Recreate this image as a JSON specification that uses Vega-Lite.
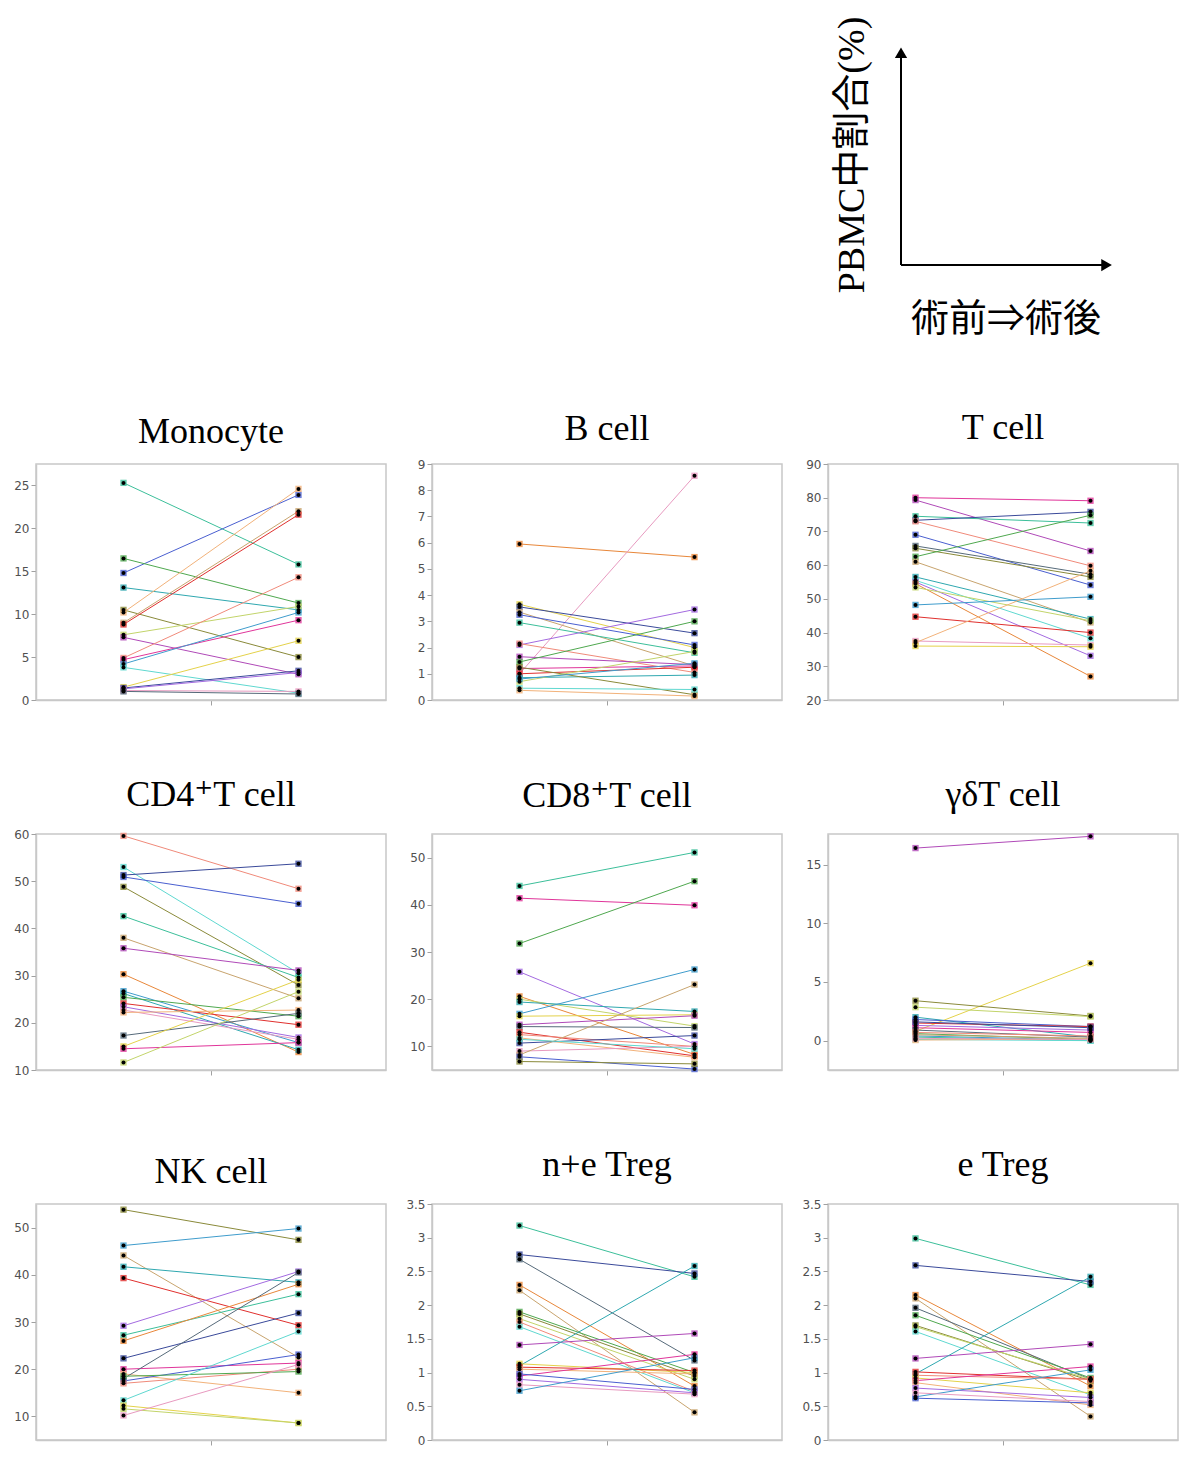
{
"$schema":"https://vega.github.io/schema/vega-lite/v6.json",
"background":"white",
"padding":{"left":12,"top":0,"right":0,"bottom":0},
"spacing":69,
"resolve":{"scale":{"x":"independent","y":"independent"}},
"config":{
"view":{"stroke":"#c8c8c8","strokeWidth":1.5},
"axis":{"domainColor":"#c8c8c8","domainWidth":1.5,"tickColor":"#a0a0a0","tickSize":5,"labelColor":"#505050","labelFont":"DejaVu Sans","labelFontSize":12,"grid":false,"labelPadding":2,"labelExpr":"'' + datum.value"},
"title":{"font":"Liberation Serif, DejaVu Serif","fontSize":36,"fontWeight":"normal","color":"#000","offset":10,"anchor":"middle"},
"range":{"category":["#3cbf9a","#4a5fd0","#4fa84f","#2fa8b0","#8a8a3a","#f2b27a","#c8a46e","#e0302e","#c2d46a","#b04ab8","#f08a7a","#e0359a","#3f9ccc","#e4d24a","#3a4a9a","#a36ae0","#e89ac0","#566a7a","#5fd8d0","#e8873a"]}
},
"datasets":{
"cells":[
{"p":"Mo","s":1,"pre":25.3,"post":15.8},{"p":"Mo","s":2,"pre":14.8,"post":23.9},{"p":"Mo","s":3,"pre":16.5,"post":11.3},{"p":"Mo","s":4,"pre":13.1,"post":10.5},{"p":"Mo","s":5,"pre":10.5,"post":5.0},{"p":"Mo","s":6,"pre":10.2,"post":24.6},{"p":"Mo","s":7,"pre":9.0,"post":22.0},{"p":"Mo","s":8,"pre":8.8,"post":21.6},{"p":"Mo","s":9,"pre":7.6,"post":10.9},{"p":"Mo","s":10,"pre":7.3,"post":3.0},{"p":"Mo","s":11,"pre":4.9,"post":14.3},{"p":"Mo","s":12,"pre":4.7,"post":9.3},{"p":"Mo","s":13,"pre":4.2,"post":10.2},{"p":"Mo","s":19,"pre":3.8,"post":0.8},{"p":"Mo","s":14,"pre":1.5,"post":6.9},{"p":"Mo","s":15,"pre":1.4,"post":3.4},{"p":"Mo","s":16,"pre":1.3,"post":3.2},{"p":"Mo","s":17,"pre":1.1,"post":1.0},{"p":"Mo","s":18,"pre":1.0,"post":0.7},
{"p":"B","s":20,"pre":5.95,"post":5.45},{"p":"B","s":17,"pre":1.0,"post":8.55},{"p":"B","s":14,"pre":3.65,"post":2.0},{"p":"B","s":15,"pre":3.55,"post":2.55},{"p":"B","s":7,"pre":3.35,"post":1.3},{"p":"B","s":2,"pre":3.25,"post":2.1},{"p":"B","s":1,"pre":2.95,"post":1.8},{"p":"B","s":16,"pre":2.1,"post":3.45},{"p":"B","s":11,"pre":2.15,"post":1.05},{"p":"B","s":10,"pre":1.65,"post":1.35},{"p":"B","s":3,"pre":1.45,"post":3.0},{"p":"B","s":12,"pre":1.2,"post":1.3},{"p":"B","s":8,"pre":1.0,"post":1.25},{"p":"B","s":4,"pre":0.85,"post":0.95},{"p":"B","s":9,"pre":0.7,"post":1.85},{"p":"B","s":5,"pre":1.25,"post":0.2},{"p":"B","s":19,"pre":0.45,"post":0.4},{"p":"B","s":6,"pre":0.37,"post":0.15},{"p":"B","s":13,"pre":0.8,"post":1.4},
{"p":"T","s":12,"pre":80.0,"post":79.1},{"p":"T","s":10,"pre":79.3,"post":64.2},{"p":"T","s":1,"pre":74.5,"post":72.5},{"p":"T","s":15,"pre":73.3,"post":75.8},{"p":"T","s":11,"pre":73.0,"post":59.8},{"p":"T","s":2,"pre":69.0,"post":54.1},{"p":"T","s":18,"pre":65.7,"post":57.3},{"p":"T","s":5,"pre":65.0,"post":56.5},{"p":"T","s":3,"pre":62.5,"post":74.8},{"p":"T","s":7,"pre":61.0,"post":43.0},{"p":"T","s":4,"pre":56.5,"post":44.0},{"p":"T","s":19,"pre":55.5,"post":38.3},{"p":"T","s":16,"pre":55.0,"post":33.1},{"p":"T","s":20,"pre":54.5,"post":27.0},{"p":"T","s":9,"pre":53.4,"post":43.5},{"p":"T","s":13,"pre":48.2,"post":50.6},{"p":"T","s":8,"pre":44.7,"post":40.0},{"p":"T","s":17,"pre":37.5,"post":36.3},{"p":"T","s":6,"pre":37.0,"post":58.3},{"p":"T","s":14,"pre":36.0,"post":35.8},
{"p":"CD4","s":11,"pre":59.6,"post":48.4},{"p":"CD4","s":19,"pre":53.0,"post":30.5},{"p":"CD4","s":15,"pre":51.3,"post":53.7},{"p":"CD4","s":2,"pre":50.9,"post":45.2},{"p":"CD4","s":5,"pre":48.8,"post":28.0},{"p":"CD4","s":1,"pre":42.6,"post":29.6},{"p":"CD4","s":7,"pre":38.0,"post":25.2},{"p":"CD4","s":10,"pre":35.8,"post":31.1},{"p":"CD4","s":20,"pre":30.3,"post":13.8},{"p":"CD4","s":13,"pre":26.7,"post":15.8},{"p":"CD4","s":4,"pre":26.2,"post":14.3},{"p":"CD4","s":3,"pre":25.4,"post":21.4},{"p":"CD4","s":8,"pre":24.1,"post":19.6},{"p":"CD4","s":16,"pre":23.4,"post":16.9},{"p":"CD4","s":17,"pre":22.7,"post":16.5},{"p":"CD4","s":6,"pre":22.2,"post":22.7},{"p":"CD4","s":18,"pre":17.3,"post":22.0},{"p":"CD4","s":14,"pre":15.0,"post":29.1},{"p":"CD4","s":12,"pre":14.5,"post":15.8},{"p":"CD4","s":9,"pre":11.6,"post":26.6},
{"p":"CD8","s":1,"pre":44.0,"post":51.1},{"p":"CD8","s":12,"pre":41.4,"post":39.9},{"p":"CD8","s":3,"pre":31.8,"post":45.0},{"p":"CD8","s":16,"pre":25.8,"post":10.5},{"p":"CD8","s":20,"pre":20.6,"post":8.3},{"p":"CD8","s":9,"pre":20.0,"post":14.3},{"p":"CD8","s":4,"pre":19.4,"post":17.4},{"p":"CD8","s":13,"pre":16.9,"post":26.3},{"p":"CD8","s":14,"pre":16.4,"post":16.7},{"p":"CD8","s":10,"pre":14.6,"post":16.5},{"p":"CD8","s":18,"pre":14.2,"post":14.0},{"p":"CD8","s":8,"pre":13.0,"post":8.0},{"p":"CD8","s":11,"pre":12.5,"post":10.0},{"p":"CD8","s":6,"pre":11.8,"post":7.7},{"p":"CD8","s":15,"pre":10.7,"post":12.3},{"p":"CD8","s":17,"pre":9.0,"post":10.0},{"p":"CD8","s":7,"pre":8.2,"post":23.1},{"p":"CD8","s":2,"pre":7.8,"post":5.2},{"p":"CD8","s":5,"pre":6.8,"post":6.3},{"p":"CD8","s":19,"pre":11.5,"post":9.5},
{"p":"gd","s":10,"pre":16.4,"post":17.4},{"p":"gd","s":14,"pre":0.8,"post":6.6},{"p":"gd","s":5,"pre":3.4,"post":2.1},{"p":"gd","s":9,"pre":2.85,"post":2.05},{"p":"gd","s":4,"pre":2.0,"post":0.3},{"p":"gd","s":2,"pre":1.8,"post":1.2},{"p":"gd","s":8,"pre":1.5,"post":1.2},{"p":"gd","s":16,"pre":1.3,"post":0.9},{"p":"gd","s":12,"pre":1.1,"post":0.7},{"p":"gd","s":18,"pre":0.9,"post":0.3},{"p":"gd","s":3,"pre":0.6,"post":0.1},{"p":"gd","s":13,"pre":0.4,"post":0.05},{"p":"gd","s":1,"pre":0.3,"post":0.0},{"p":"gd","s":19,"pre":0.1,"post":0.0},{"p":"gd","s":6,"pre":0.05,"post":0.15},{"p":"gd","s":15,"pre":1.6,"post":1.1},{"p":"gd","s":7,"pre":0.5,"post":0.2},{"p":"gd","s":11,"pre":0.7,"post":0.4},{"p":"gd","s":17,"pre":0.2,"post":0.1},
{"p":"NK","s":5,"pre":53.8,"post":47.4},{"p":"NK","s":13,"pre":46.2,"post":49.8},{"p":"NK","s":7,"pre":44.1,"post":22.5},{"p":"NK","s":4,"pre":41.7,"post":38.4},{"p":"NK","s":8,"pre":39.3,"post":29.3},{"p":"NK","s":16,"pre":29.2,"post":40.7},{"p":"NK","s":1,"pre":27.2,"post":35.9},{"p":"NK","s":20,"pre":26.0,"post":38.0},{"p":"NK","s":15,"pre":22.3,"post":31.9},{"p":"NK","s":12,"pre":20.0,"post":21.3},{"p":"NK","s":6,"pre":19.0,"post":15.0},{"p":"NK","s":18,"pre":18.0,"post":40.5},{"p":"NK","s":2,"pre":17.5,"post":23.1},{"p":"NK","s":11,"pre":17.0,"post":20.0},{"p":"NK","s":3,"pre":18.5,"post":19.5},{"p":"NK","s":19,"pre":13.4,"post":28.0},{"p":"NK","s":14,"pre":12.3,"post":8.6},{"p":"NK","s":9,"pre":11.6,"post":8.6},{"p":"NK","s":17,"pre":10.2,"post":21.0},
{"p":"neT","s":1,"pre":3.18,"post":2.42},{"p":"neT","s":15,"pre":2.75,"post":2.47},{"p":"neT","s":18,"pre":2.68,"post":1.18},{"p":"neT","s":20,"pre":2.3,"post":0.8},{"p":"neT","s":7,"pre":2.22,"post":0.41},{"p":"neT","s":3,"pre":1.9,"post":1.0},{"p":"neT","s":5,"pre":1.87,"post":0.95},{"p":"neT","s":9,"pre":1.8,"post":0.9},{"p":"neT","s":11,"pre":1.75,"post":0.72},{"p":"neT","s":19,"pre":1.68,"post":0.7},{"p":"neT","s":10,"pre":1.41,"post":1.58},{"p":"neT","s":4,"pre":1.1,"post":2.58},{"p":"neT","s":14,"pre":1.13,"post":1.0},{"p":"neT","s":8,"pre":1.08,"post":1.03},{"p":"neT","s":6,"pre":1.05,"post":0.98},{"p":"neT","s":12,"pre":0.95,"post":1.27},{"p":"neT","s":2,"pre":0.98,"post":0.75},{"p":"neT","s":16,"pre":0.9,"post":0.7},{"p":"neT","s":17,"pre":0.82,"post":0.68},{"p":"neT","s":13,"pre":0.73,"post":1.22},
{"p":"eT","s":1,"pre":2.99,"post":2.30},{"p":"eT","s":15,"pre":2.59,"post":2.35},{"p":"eT","s":20,"pre":2.15,"post":0.80},{"p":"eT","s":7,"pre":2.1,"post":0.35},{"p":"eT","s":18,"pre":1.96,"post":0.90},{"p":"eT","s":3,"pre":1.85,"post":0.92},{"p":"eT","s":5,"pre":1.7,"post":0.88},{"p":"eT","s":9,"pre":1.68,"post":0.90},{"p":"eT","s":19,"pre":1.61,"post":0.67},{"p":"eT","s":10,"pre":1.21,"post":1.42},{"p":"eT","s":4,"pre":0.98,"post":2.42},{"p":"eT","s":8,"pre":1.01,"post":0.90},{"p":"eT","s":11,"pre":0.96,"post":0.90},{"p":"eT","s":14,"pre":0.92,"post":0.70},{"p":"eT","s":12,"pre":0.88,"post":1.09},{"p":"eT","s":6,"pre":0.85,"post":0.52},{"p":"eT","s":16,"pre":0.77,"post":0.63},{"p":"eT","s":13,"pre":0.64,"post":1.04},{"p":"eT","s":2,"pre":0.62,"post":0.55},{"p":"eT","s":17,"pre":0.7,"post":0.57}
]
},
"vconcat":[
{
"width":1140,"height":336,
"view":{"stroke":null},
"encoding":{
"x":{"field":"x","type":"quantitative","scale":{"domain":[-4.061,1.291],"nice":false,"zero":false},"axis":null},
"y":{"field":"y","type":"quantitative","scale":{"domain":[-0.3227,1.2045],"nice":false,"zero":false},"axis":null}
},
"layer":[
{"data":{"values":[{"x":0,"y":0,"x2":0,"y2":0.965},{"x":0,"y":0,"x2":0.965,"y2":0}]},"mark":{"type":"rule","strokeWidth":2,"color":"black"},"encoding":{"x2":{"field":"x2"},"y2":{"field":"y2"}}},
{"data":{"values":[{"x":0,"y":0.965}]},"mark":{"type":"point","shape":"triangle-up","filled":true,"color":"black","size":150,"opacity":1}},
{"data":{"values":[{"x":0.965,"y":0}]},"mark":{"type":"point","shape":"triangle-right","filled":true,"color":"black","size":150,"opacity":1}},
{"data":{"values":[{"x":-0.225,"y":0.5,"label":"PBMC中割合(%)"}]},"mark":{"type":"text","angle":270,"fontSize":38,"font":"Liberation Serif, Noto Sans CJK JP","align":"center","baseline":"middle","color":"black"},"encoding":{"text":{"field":"label"}}},
{"data":{"values":[{"x":0.493,"y":-0.25,"label":"術前⇒術後"}]},"mark":{"type":"text","fontSize":38,"font":"Noto Sans CJK JP","align":"center","baseline":"middle","color":"black"},"encoding":{"text":{"field":"label"}}}
]
},
{"hconcat":[
{"title":{"text":"Monocyte","offset":13},"width":350,"height":236,"data":{"name":"cells"},"transform":[{"filter":"datum.p==='Mo'"},{"fold":["pre","post"],"as":["t","v"]}],
"encoding":{"x":{"field":"t","type":"nominal","scale":{"type":"band","domain":["pre","post"],"paddingInner":0,"paddingOuter":0},"axis":{"values":["pre"],"bandPosition":1,"labels":false,"title":null}},
"y":{"field":"v","type":"quantitative","scale":{"domain":[0,27.5],"nice":false,"zero":false},"axis":{"values":[0,5,10,15,20,25],"title":null}},
"color":{"field":"s","type":"nominal","scale":{"domain":[1,2,3,4,5,6,7,8,9,10,11,12,13,14,15,16,17,18,19,20]},"legend":null}},
"layer":[{"mark":{"type":"line","strokeWidth":1}},{"mark":{"type":"point","shape":"square","filled":true,"size":40,"opacity":0.8}},{"mark":{"type":"point","shape":"circle","filled":true,"size":16,"opacity":1},"encoding":{"color":{"value":"black"}}}]},
{"title":{"text":"B cell","offset":10},"width":350,"height":236,"data":{"name":"cells"},"transform":[{"filter":"datum.p==='B'"},{"fold":["pre","post"],"as":["t","v"]}],
"encoding":{"x":{"field":"t","type":"nominal","scale":{"type":"band","domain":["pre","post"],"paddingInner":0,"paddingOuter":0},"axis":{"values":["pre"],"bandPosition":1,"labels":false,"title":null}},
"y":{"field":"v","type":"quantitative","scale":{"domain":[0,9],"nice":false,"zero":false},"axis":{"values":[0,1,2,3,4,5,6,7,8,9],"title":null}},
"color":{"field":"s","type":"nominal","scale":{"domain":[1,2,3,4,5,6,7,8,9,10,11,12,13,14,15,16,17,18,19,20]},"legend":null}},
"layer":[{"mark":{"type":"line","strokeWidth":1}},{"mark":{"type":"point","shape":"square","filled":true,"size":40,"opacity":0.8}},{"mark":{"type":"point","shape":"circle","filled":true,"size":16,"opacity":1},"encoding":{"color":{"value":"black"}}}]},
{"title":{"text":"T cell","offset":11},"width":350,"height":236,"data":{"name":"cells"},"transform":[{"filter":"datum.p==='T'"},{"fold":["pre","post"],"as":["t","v"]}],
"encoding":{"x":{"field":"t","type":"nominal","scale":{"type":"band","domain":["pre","post"],"paddingInner":0,"paddingOuter":0},"axis":{"values":["pre"],"bandPosition":1,"labels":false,"title":null}},
"y":{"field":"v","type":"quantitative","scale":{"domain":[20,90],"nice":false,"zero":false},"axis":{"values":[20,30,40,50,60,70,80,90],"title":null}},
"color":{"field":"s","type":"nominal","scale":{"domain":[1,2,3,4,5,6,7,8,9,10,11,12,13,14,15,16,17,18,19,20]},"legend":null}},
"layer":[{"mark":{"type":"line","strokeWidth":1}},{"mark":{"type":"point","shape":"square","filled":true,"size":40,"opacity":0.8}},{"mark":{"type":"point","shape":"circle","filled":true,"size":16,"opacity":1},"encoding":{"color":{"value":"black"}}}]}
],"spacing":46,"bounds":"flush","resolve":{"scale":{"x":"independent","y":"independent"}}},
{"hconcat":[
{"title":{"text":"CD4⁺T cell","offset":14},"width":350,"height":236,"data":{"name":"cells"},"transform":[{"filter":"datum.p==='CD4'"},{"fold":["pre","post"],"as":["t","v"]}],
"encoding":{"x":{"field":"t","type":"nominal","scale":{"type":"band","domain":["pre","post"],"paddingInner":0,"paddingOuter":0},"axis":{"values":["pre"],"bandPosition":1,"labels":false,"title":null}},
"y":{"field":"v","type":"quantitative","scale":{"domain":[10,60],"nice":false,"zero":false},"axis":{"values":[10,20,30,40,50,60],"title":null}},
"color":{"field":"s","type":"nominal","scale":{"domain":[1,2,3,4,5,6,7,8,9,10,11,12,13,14,15,16,17,18,19,20]},"legend":null}},
"layer":[{"mark":{"type":"line","strokeWidth":1}},{"mark":{"type":"point","shape":"square","filled":true,"size":40,"opacity":0.8}},{"mark":{"type":"point","shape":"circle","filled":true,"size":16,"opacity":1},"encoding":{"color":{"value":"black"}}}]},
{"title":{"text":"CD8⁺T cell","offset":19},"width":350,"height":236,"data":{"name":"cells"},"transform":[{"filter":"datum.p==='CD8'"},{"fold":["pre","post"],"as":["t","v"]}],
"encoding":{"x":{"field":"t","type":"nominal","scale":{"type":"band","domain":["pre","post"],"paddingInner":0,"paddingOuter":0},"axis":{"values":["pre"],"bandPosition":1,"labels":false,"title":null}},
"y":{"field":"v","type":"quantitative","scale":{"domain":[5,55],"nice":false,"zero":false},"axis":{"values":[10,20,30,40,50],"title":null}},
"color":{"field":"s","type":"nominal","scale":{"domain":[1,2,3,4,5,6,7,8,9,10,11,12,13,14,15,16,17,18,19,20]},"legend":null}},
"layer":[{"mark":{"type":"line","strokeWidth":1}},{"mark":{"type":"point","shape":"square","filled":true,"size":40,"opacity":0.8}},{"mark":{"type":"point","shape":"circle","filled":true,"size":16,"opacity":1},"encoding":{"color":{"value":"black"}}}]},
{"title":{"text":"γδT cell","offset":19},"width":350,"height":236,"data":{"name":"cells"},"transform":[{"filter":"datum.p==='gd'"},{"fold":["pre","post"],"as":["t","v"]}],
"encoding":{"x":{"field":"t","type":"nominal","scale":{"type":"band","domain":["pre","post"],"paddingInner":0,"paddingOuter":0},"axis":{"values":["pre"],"bandPosition":1,"labels":false,"title":null}},
"y":{"field":"v","type":"quantitative","scale":{"domain":[-2.5,17.6],"nice":false,"zero":false},"axis":{"values":[0,5,10,15],"title":null}},
"color":{"field":"s","type":"nominal","scale":{"domain":[1,2,3,4,5,6,7,8,9,10,11,12,13,14,15,16,17,18,19,20]},"legend":null}},
"layer":[{"mark":{"type":"line","strokeWidth":1}},{"mark":{"type":"point","shape":"square","filled":true,"size":40,"opacity":0.8}},{"mark":{"type":"point","shape":"circle","filled":true,"size":16,"opacity":1},"encoding":{"color":{"value":"black"}}}]}
],"spacing":46,"bounds":"flush","resolve":{"scale":{"x":"independent","y":"independent"}}},
{"hconcat":[
{"title":{"text":"NK cell","offset":13},"width":350,"height":236,"data":{"name":"cells"},"transform":[{"filter":"datum.p==='NK'"},{"fold":["pre","post"],"as":["t","v"]}],
"encoding":{"x":{"field":"t","type":"nominal","scale":{"type":"band","domain":["pre","post"],"paddingInner":0,"paddingOuter":0},"axis":{"values":["pre"],"bandPosition":1,"labels":false,"title":null}},
"y":{"field":"v","type":"quantitative","scale":{"domain":[5,55],"nice":false,"zero":false},"axis":{"values":[10,20,30,40,50],"title":null}},
"color":{"field":"s","type":"nominal","scale":{"domain":[1,2,3,4,5,6,7,8,9,10,11,12,13,14,15,16,17,18,19,20]},"legend":null}},
"layer":[{"mark":{"type":"line","strokeWidth":1}},{"mark":{"type":"point","shape":"square","filled":true,"size":40,"opacity":0.8}},{"mark":{"type":"point","shape":"circle","filled":true,"size":16,"opacity":1},"encoding":{"color":{"value":"black"}}}]},
{"title":{"text":"n+e Treg","offset":14},"width":350,"height":236,"data":{"name":"cells"},"transform":[{"filter":"datum.p==='neT'"},{"fold":["pre","post"],"as":["t","v"]}],
"encoding":{"x":{"field":"t","type":"nominal","scale":{"type":"band","domain":["pre","post"],"paddingInner":0,"paddingOuter":0},"axis":{"values":["pre"],"bandPosition":1,"labels":false,"title":null}},
"y":{"field":"v","type":"quantitative","scale":{"domain":[0,3.5],"nice":false,"zero":false},"axis":{"values":[0,0.5,1,1.5,2,2.5,3,3.5],"title":null}},
"color":{"field":"s","type":"nominal","scale":{"domain":[1,2,3,4,5,6,7,8,9,10,11,12,13,14,15,16,17,18,19,20]},"legend":null}},
"layer":[{"mark":{"type":"line","strokeWidth":1}},{"mark":{"type":"point","shape":"square","filled":true,"size":40,"opacity":0.8}},{"mark":{"type":"point","shape":"circle","filled":true,"size":16,"opacity":1},"encoding":{"color":{"value":"black"}}}]},
{"title":{"text":"e Treg","offset":14},"width":350,"height":236,"data":{"name":"cells"},"transform":[{"filter":"datum.p==='eT'"},{"fold":["pre","post"],"as":["t","v"]}],
"encoding":{"x":{"field":"t","type":"nominal","scale":{"type":"band","domain":["pre","post"],"paddingInner":0,"paddingOuter":0},"axis":{"values":["pre"],"bandPosition":1,"labels":false,"title":null}},
"y":{"field":"v","type":"quantitative","scale":{"domain":[0,3.5],"nice":false,"zero":false},"axis":{"values":[0,0.5,1,1.5,2,2.5,3,3.5],"title":null}},
"color":{"field":"s","type":"nominal","scale":{"domain":[1,2,3,4,5,6,7,8,9,10,11,12,13,14,15,16,17,18,19,20]},"legend":null}},
"layer":[{"mark":{"type":"line","strokeWidth":1}},{"mark":{"type":"point","shape":"square","filled":true,"size":40,"opacity":0.8}},{"mark":{"type":"point","shape":"circle","filled":true,"size":16,"opacity":1},"encoding":{"color":{"value":"black"}}}]}
],"spacing":46,"bounds":"flush","resolve":{"scale":{"x":"independent","y":"independent"}}}
]
}
